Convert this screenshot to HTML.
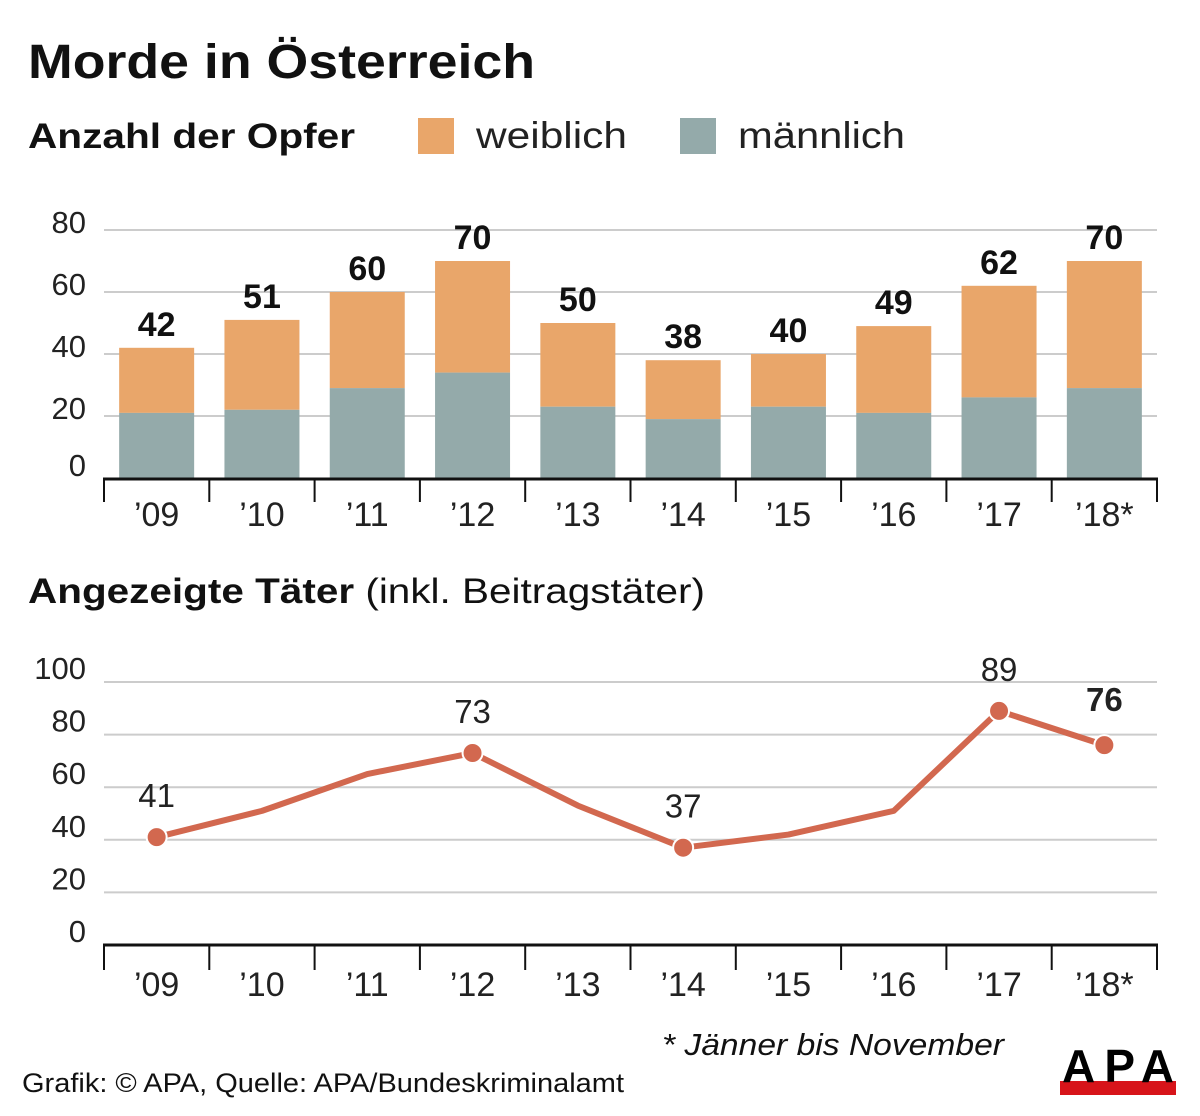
<!DOCTYPE html>
<html><head><meta charset="utf-8"><style>
body{margin:0;background:#fff;}
svg{display:block;font-family:"Liberation Sans",sans-serif;}
</style></head><body>
<svg id="c" width="1200" height="1116" viewBox="0 0 1200 1116">
<text x="28" y="78" font-size="48" font-weight="bold" fill="#111" textLength="507" lengthAdjust="spacingAndGlyphs">Morde in Österreich</text>
<text x="28" y="148" font-size="35" font-weight="bold" fill="#111" textLength="327" lengthAdjust="spacingAndGlyphs">Anzahl der Opfer</text>
<rect x="418" y="118" width="36" height="36" fill="#e9a66a"/>
<text x="476" y="148" font-size="37" fill="#222" textLength="151" lengthAdjust="spacingAndGlyphs">weiblich</text>
<rect x="680" y="118" width="36" height="36" fill="#94aaaa"/>
<text x="738" y="148" font-size="37" fill="#222" textLength="167" lengthAdjust="spacingAndGlyphs">männlich</text>
<g id="bars"></g>
<text x="28" y="603" font-size="35" fill="#111" textLength="677" lengthAdjust="spacingAndGlyphs"><tspan font-weight="bold">Angezeigte Täter</tspan> (inkl. Beitragstäter)</text>
<g id="line"></g>
<text x="662" y="1055" font-size="31" font-style="italic" fill="#111" textLength="342" lengthAdjust="spacingAndGlyphs">* Jänner bis November</text>
<text x="22" y="1092" font-size="27" fill="#111" textLength="602" lengthAdjust="spacingAndGlyphs">Grafik: © APA, Quelle: APA/Bundeskriminalamt</text>
<g>
<rect x="1060" y="1081" width="116" height="14" fill="#d7141a"/>
<text x="1118" y="1082" text-anchor="middle" font-size="46" font-weight="bold" fill="#000" textLength="112">APA</text>
</g>
</svg>
<script>
const years=["’09","’10","’11","’12","’13","’14","’15","’16","’17","’18*"];
const totals=[42,51,60,70,50,38,40,49,62,70];
const male=[21,22,29,34,23,19,23,21,26,29];
const offenders=[41,51,65,73,53,37,42,51,89,76];
const offenderLabels=["41","","","73","","37","","","89","76"];
const barTicks=[0,20,40,60,80];
const lineTicks=[0,20,40,60,80,100];
const NS="http://www.w3.org/2000/svg";
function mk(p,t,a){const e=document.createElementNS(NS,t);for(const k in a)e.setAttribute(k,a[k]);p.appendChild(e);return e;}
const x0=104,step=105.3;
const cx=i=>x0+step*(i+0.5);
const bg=document.getElementById('bars');
const by=v=>478-v*3.1;
barTicks.forEach(t=>{
 if(t>0){const l=mk(bg,'line',{x1:104,x2:1157,y1:by(t),y2:by(t),stroke:'#ccc','stroke-width':2});
 
 }
 const tx=mk(bg,'text',{x:86,y:by(t)+(t===0?-2:3),'text-anchor':'end','font-size':31,fill:'#222'});tx.textContent=t;
 
 
});
years.forEach((y,i)=>{
 const w=75,x=cx(i)-w/2;
 const f=mk(bg,'rect',{x:x,y:by(totals[i]),width:w,height:by(male[i])-by(totals[i]),fill:'#e9a66a'});
 
 
 const m=mk(bg,'rect',{x:x,y:by(male[i]),width:w,height:by(0)-by(male[i]),fill:'#94aaaa'});
 
 
 const v=mk(bg,'text',{x:cx(i),y:by(totals[i])-12,'text-anchor':'middle','font-size':34,'font-weight':'bold',fill:'#111'});v.textContent=totals[i];
 
 
 const l=mk(bg,'text',{x:cx(i),y:526,'text-anchor':'middle','font-size':34,fill:'#222'});l.textContent=y;
 
 
});
const ax=mk(bg,'line',{x1:103,x2:1158,y1:479,y2:479,stroke:'#111','stroke-width':3});


for(let i=0;i<=years.length;i++){const t=mk(bg,'line',{x1:x0+step*i,x2:x0+step*i,y1:479,y2:502,stroke:'#111','stroke-width':2});
 
 }
const lg=document.getElementById('line');
const ly=v=>945-v*2.63;
lineTicks.forEach(t=>{
 if(t>0){const l=mk(lg,'line',{x1:104,x2:1157,y1:ly(t),y2:ly(t),stroke:'#ccc','stroke-width':2});
 
 }
 const tx=mk(lg,'text',{x:86,y:ly(t)-3,'text-anchor':'end','font-size':31,fill:'#222'});tx.textContent=t;
 
 
});
const lax=mk(lg,'line',{x1:103,x2:1158,y1:945,y2:945,stroke:'#111','stroke-width':3});


for(let i=0;i<=years.length;i++){const t=mk(lg,'line',{x1:x0+step*i,x2:x0+step*i,y1:945,y2:970,stroke:'#111','stroke-width':2});
 
 }
const pl=mk(lg,'polyline',{points:offenders.map((v,i)=>cx(i)+','+ly(v)).join(' '),fill:'none',stroke:'#d2684f','stroke-width':6,'stroke-linejoin':'round'});


years.forEach((y,i)=>{
 const l=mk(lg,'text',{x:cx(i),y:996,'text-anchor':'middle','font-size':34,fill:'#222'});l.textContent=y;
 
 
 if(offenderLabels[i]){
  const c=mk(lg,'circle',{cx:cx(i),cy:ly(offenders[i]),r:10,fill:'#d2684f',stroke:'#fff','stroke-width':2});
  
  
  const last=i===years.length-1;
  const t=mk(lg,'text',{x:cx(i),y:ly(offenders[i])-(last?34:30),'text-anchor':'middle','font-size':33,'font-weight':last?'bold':'normal',fill:'#222'});t.textContent=offenderLabels[i];
  
  
 }
});
</script>
</body></html>
